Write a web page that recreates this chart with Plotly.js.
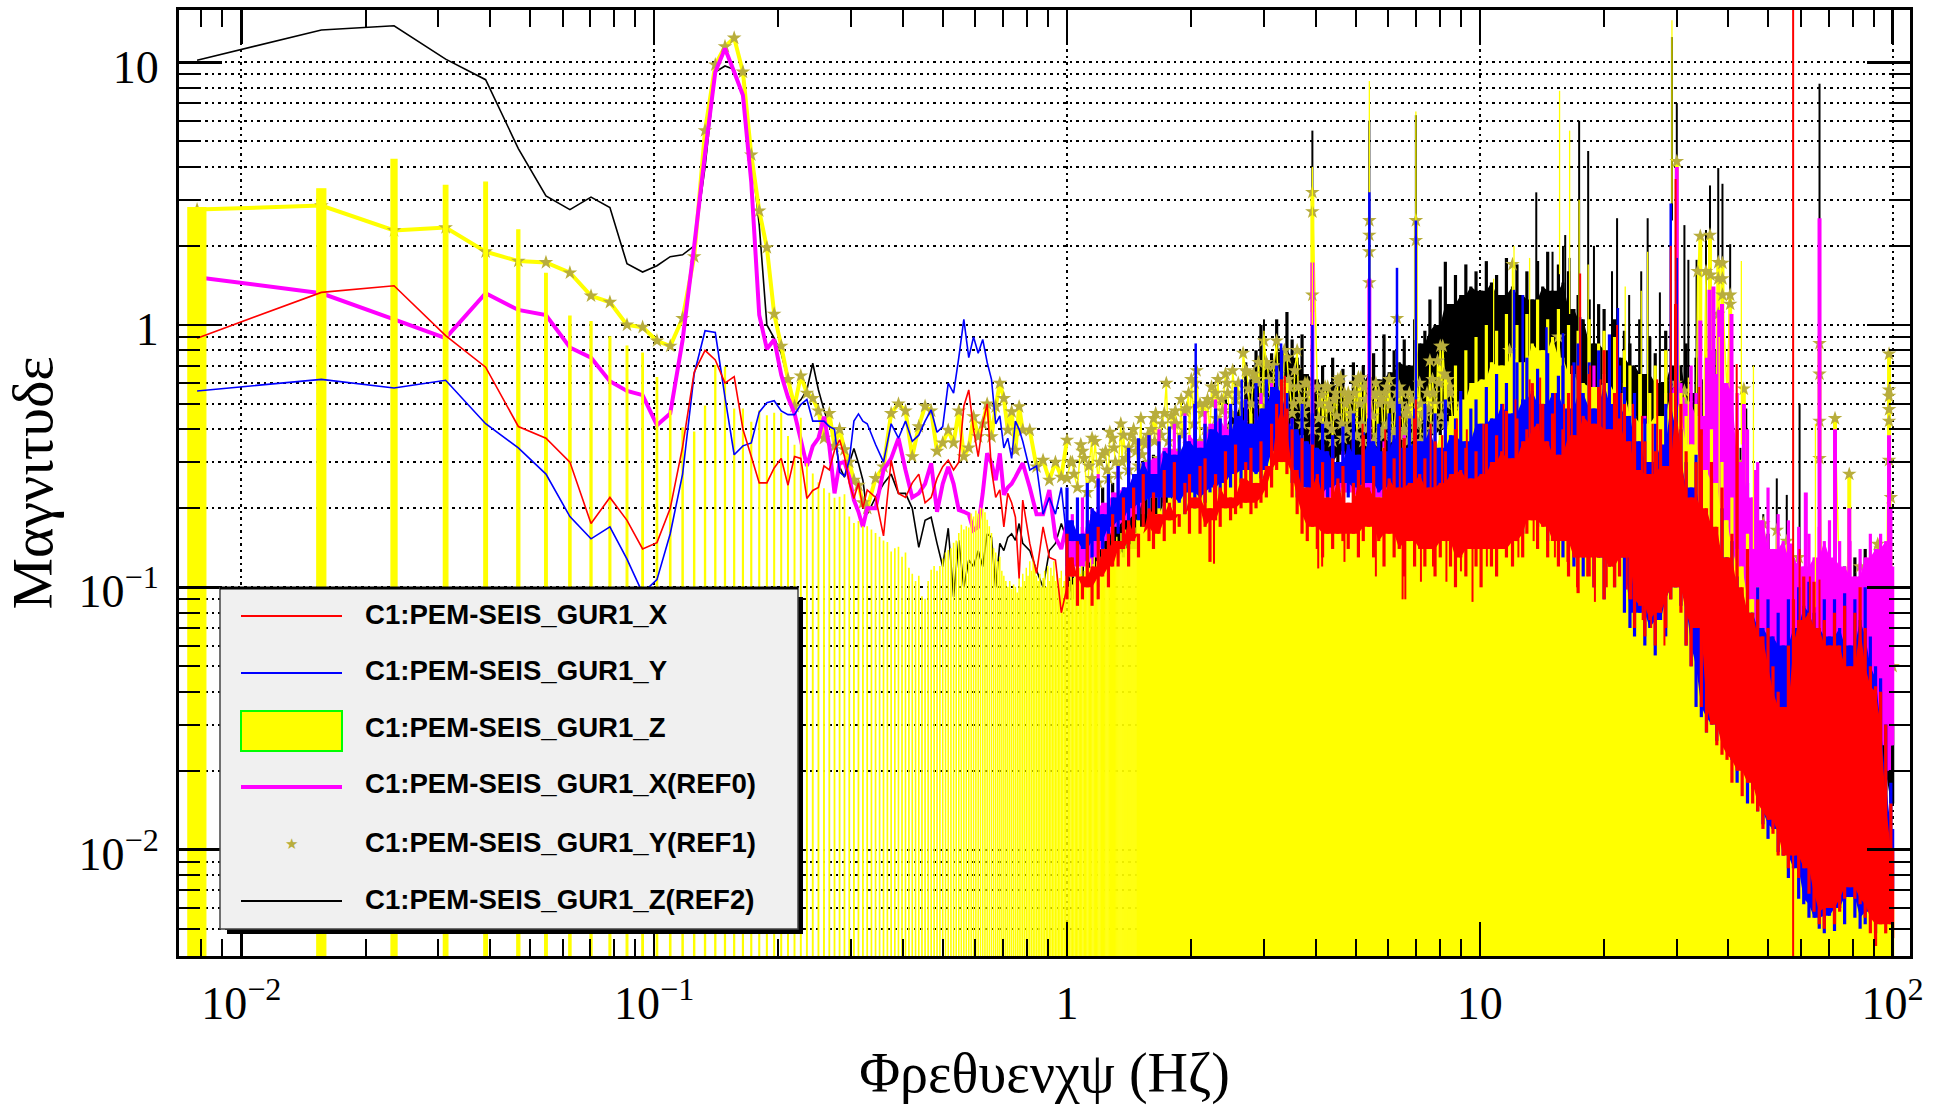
<!DOCTYPE html>
<html>
<head>
<meta charset="utf-8">
<script src="https://cdn.plot.ly/plotly-3.0.1.min.js"></script>
<style>html,body{margin:0;padding:0;background:#fff}#chart{width:1946px;height:1108px}</style>
</head>
<body>
<div id="chart"></div>
<script>
// ---- frequency bins ----
const binWidth = 0.0078125;
const midBins = [1,2,3,4,5,6,7,8,9,10, 11,12,13,14,15,16,17,18,19,20, 21,22,23,24,25,26,27,28,29,30, 31,32,33,34,35,36,37,38,39,40, 41,42,
  44,46,48,50,52,54,56,58,60,62, 64,66,68,70,72,74,76,78,80,82, 84,86,88,90,92,94,96,98,100, 104,108,112,116,120,124,128];

// ---- individually resolved low-frequency values (one per midBins entry) ----
const redMid = [.89,1.33,1.41,.91,.69,.41,.37,.30,.175,.22, .18,.14,.148,.20,.343,.66,.80,.735,.60,.635, .40,.315,.25,.25,.285,.31,.245,.315,.31,.218, .234,.24,.29,.28,.333,.365,.315,.25,.218,.25, .20,.235,
  .22,.157,.305,.228,.22,.25,.27,.21,.22,.26, .288,.305,.28,.30,.49,.565,.40,.315,.42,.50, .28,.22,.235,.17,.228,.21,.185,.108,.215, .147,.113,.17,.13,.127,.08,.10];
const blueMid = [.56,.62,.575,.615,.42,.34,.27,.186,.153,.17, .128,.095,.107,.16,.27,.65,.95,.935,.53,.32, .346,.355,.465,.505,.514,.47,.455,.455,.497,.52, .43,.43,.43,.41,.40,.275,.265,.305,.43,.458, .43,.42,
  .35,.30,.42,.37,.43,.36,.38,.43,.474,.39, .41,.60,.55,.75,1.05,.75,.90,.78,.88,.72, .62,.42,.45,.34,.37,.31,.43,.40,.36, .28,.29,.19,.22,.19,.24,.15];
const magentaMid = [1.52,1.32,1.05,.89,1.32,1.14,1.09,.82,.75,.61, .56,.54,.415,.46,.875,2.0,4.5,9.2,11.3,9.2, 7.5,3.5,1.09,.81,.88,.645,.53,.46,.365,.29, .345,.37,.447,.345,.228,.297,.30,.263,.215,.194, .17,.20,
  .20,.28,.31,.37,.28,.22,.228,.248,.297,.194, .248,.288,.248,.197,.194,.19,.165,.17,.228,.324, .297,.256,.324,.225,.24,.248,.263,.28,.297, .24,.19,.19,.235,.155,.14,.176];
const starMid = [2.75,2.85,2.29,2.35,1.9,1.75,1.73,1.58,1.29,1.22, 1.0,.98,.87,.83,1.06,1.82,5.5,9.8,11.5,12.4, 9.2,4.45,2.72,1.97,1.1,.83,.62,.49,.64,.55, .525,.47,.37,.46,.345,.40,.335,.30,.256,.245, .21,.20,
  .26,.288,.46,.50,.47,.315,.41,.49,.47,.33, .355,.397,.355,.47,.315,.34,.447,.375,.42,.50, .375,.488,.60,.525,.397,.467,.333,.488,.397, .397,.288,.305,.256,.30,.263,.364];
const blackMid = [10.2,13.3,13.8,10.3,8.6,4.7,3.1,2.75,3.07,2.8, 1.71,1.59,1.68,1.82,1.85,2.0,4.0,9.2,9.7,9.4, 7.5,4.5,2.4,1.0,.89,.78,.617,.49,.518,.565, .714,.565,.474,.41,.375,.288,.263,.297,.338,.297, .256,.19,
  .22,.248,.27,.228,.228,.20,.142,.18,.185,.147, .12,.168,.092,.151,.10,.127,.12,.138,.12,.16, .155,.10,.147,.138,.155,.16,.151,.175,.147, .138,.116,.10,.138,.147,.175,.151];
// Z channel: one narrow bar per bin, bins 1..190
const zBars = [2.8,3.3,4.27,3.4,3.5,2.3,1.57,1.08,1.03,.9, .83,.78,.63,.47,.405,.39,.49,.70,.69,.477, .477,.425,.47,.45,.46,.46,.375,.347,.44,.295, .27,.25,.237,.228,.218,.22,.225,.185,.175,.178, .17,.17,
  .165,.16,.155,.15,.148,.136,.14,.142,.13,.135, .118,.112,.105,.11,.092,.09,.105,.116,.12,.115, .12,.128,.135,.138,.14,.147,.15,.16,.172,.165, .17,.168,.19,.185,.195,.19,.2,.198,.192,.18,
  .17,.16,.14,.135,.125,.13,.115,.11,.105,.10, .105,.098,.102,.10,.095,.108,.10,.112,.105,.118, .11,.125,.115,.13,.12,.11,.105,.112,.10,.108, .115,.10,.12,.105,.118,.11,.125,.105,.112,.10, .108,.115,.10,.105,.11,.10,
  .10,.105,.11,.102,.108,.115,.105,.11,.118,.112, .12,.108,.115,.125,.11,.12,.118,.128,.112,.122, .13,.115,.125,.12,.135,.118,.13,.125,.14,.12, .135,.128,.145,.122,.138,.13,.15,.128,.142,.135, .155,.13,.148,.14,.16,.135,.152,.145,.165,.14, .158,.15,.17,.145,.162,.155,.175,.15,.168,.16, .18,.165];

// ---- dense region 1-100 Hz: shared frequency grid, crest and trough per column ----
const denseFreq = [1.00,1.03,1.06,1.09,1.12,1.15,1.19,1.22,1.26,1.29,
 1.33,1.37,1.41,1.45,1.49,1.53,1.58,1.62,1.67,1.72,
 1.77,1.82,1.87,1.93,1.98,2.04,2.10,2.16,2.22,2.29,
 2.35,2.42,2.49,2.56,2.64,2.71,2.79,2.87,2.95,3.04,
 3.13,3.22,3.31,3.41,3.51,3.61,3.71,3.82,3.93,4.04,
 4.16,4.28,4.40,4.53,4.66,4.80,4.94,5.08,5.22,5.38,
 5.53,5.69,5.86,6.03,6.20,6.38,6.56,6.75,6.95,7.15,
 7.36,7.57,7.79,8.02,8.25,8.49,8.73,8.99,9.25,9.51,
 9.79,10.07,10.37,10.67,10.98,11.3,11.6,12.0,12.3,12.7,
 13.0,13.4,13.8,14.2,14.6,15.0,15.5,15.9,16.4,16.9,
 17.3,17.8,18.4,18.9,19.4,20.0,20.6,21.2,21.8,22.4,
 23.1,23.7,24.4,25.1,25.8,26.6,27.4,28.2,29.0,29.8,
 30.7,31.6,32.5,33.4,34.4,35.4,36.4,37.5,38.6,39.7,
 40.8,42.0,43.2,44.5,45.8,47.1,48.5,49.9,51.3,52.8,
 54.3,55.9,57.5,59.2,60.9,62.7,64.5,66.4,68.3,70.3,
 72.3,74.4,76.5,78.8,81.0,83.4,85.8,88.3,90.9,93.5,
 96.2,99.0,100.0];
const redCrest = [.16,.13,.15,.11,.16,.12,.17,.14,.16,.19,
 .15,.22,.18,.24,.16,.27,.20,.23,.19,.28,
 .21,.30,.19,.25,.27,.22,.29,.31,.20,.27,
 .24,.33,.22,.35,.26,.30,.34,.25,.36,.29,
 .42,.50,.62,.48,.40,.28,.37,.24,.35,.27,
 .30,.22,.31,.26,.29,.21,.25,.28,.38,.24,
 .29,.22,.34,.26,.31,.24,.37,.25,.44,.27,
 .31,.24,.36,.25,.33,.27,.40,.28,.34,.26,
 .33,.27,.42,.30,.38,.33,.47,.31,.44,.36,
 .40,.60,.42,.50,.36,.46,.32,.40,.55,.38,
 .70,.45,.65,.42,.58,.80,.40,.55,.44,.50,
 .36,.44,.28,.36,.27,.33,.40,.29,.55,1.2,
 .50,.33,.22,.30,.40,.20,.30,.17,.24,.13,
 .16,.40,.10,.14,.08,.09,.065,.07,.05,.04,
 .035,.06,.09,.075,.11,.08,.105,.07,.075,.06,
 .08,.06,.085,.05,.08,.10,.07,.05,.042,.04,
 .03,.015,.01];
const redTrough = [.09,.11,.085,.09,.10,.085,.09,.11,.10,.12,
 .12,.14,.12,.15,.13,.17,.15,.14,.16,.15,
 .18,.16,.17,.19,.16,.20,.16,.17,.125,.18,
 .17,.20,.18,.19,.20,.21,.19,.20,.21,.22,
 .24,.28,.30,.27,.22,.19,.16,.15,.17,.14,
 .13,.16,.14,.16,.15,.14,.16,.13,.15,.17,
 .13,.15,.12,.16,.13,.14,.11,.15,.12,.14,
 .12,.14,.11,.13,.15,.12,.10,.13,.11,.14,
 .12,.10,.14,.12,.11,.14,.13,.12,.15,.13,
 .16,.18,.14,.17,.13,.15,.12,.15,.11,.13,
 .095,.13,.11,.10,.13,.09,.12,.10,.11,.13,
 .09,.07,.085,.065,.075,.06,.08,.07,.09,.10,
 .08,.06,.05,.07,.035,.028,.03,.025,.023,.022,
 .018,.02,.016,.018,.015,.014,.012,.013,.0115,.0095,
 .0095,.0085,.0095,.0078,.0085,.0068,.0058,.0052,.005,.006,
 .0052,.0058,.0065,.0072,.0065,.0062,.0055,.0048,.0043,.0052,
 .0048,.0052,.0046];
const blueCrest = [.24,.18,.22,.16,.25,.20,.26,.19,.27,.22,
 .29,.24,.34,.27,.37,.30,.38,.27,.36,.33,
 .41,.32,.38,.45,.36,.50,.34,.42,.40,.48,
 .44,.38,.50,.58,.45,.52,.42,.60,.48,.62,
 .58,.70,.80,.55,.44,.40,.50,.36,.46,.34,
 .42,.33,.38,.30,.41,.35,.46,.32,.39,.44,
 .36,.42,.33,.46,.38,.50,.34,.44,.48,.36,
 .50,.40,.46,.34,.52,.38,.44,.56,.36,.48,
 .52,.42,.58,.44,.65,.50,.60,.46,.72,.52,
 .75,.56,.68,.50,.78,.55,.64,.70,.48,.72,
 .85,.55,.72,.48,.80,.60,.92,.50,.70,.58,
 .45,.55,.36,.44,.30,.42,.35,.50,.62,.95,
 .40,.30,.24,.32,.28,.18,.26,.15,.20,.13,
 .15,.11,.09,.12,.08,.10,.07,.09,.065,.08,
 .06,.09,.07,.10,.085,.105,.08,.07,.09,.065,
 .09,.07,.095,.06,.09,.075,.10,.065,.05,.045,
 .03,.018,.012];
const blueTrough = [.12,.15,.11,.14,.12,.13,.15,.14,.15,.17,
 .16,.18,.17,.20,.18,.21,.19,.22,.20,.19,
 .22,.20,.21,.19,.23,.20,.22,.21,.23,.24,
 .22,.25,.24,.27,.25,.28,.24,.27,.26,.28,
 .28,.33,.32,.30,.25,.22,.24,.20,.22,.21,
 .23,.21,.24,.22,.25,.22,.24,.21,.23,.25,
 .21,.23,.20,.24,.21,.22,.20,.23,.21,.22,
 .19,.22,.20,.18,.21,.17,.19,.20,.17,.19,
 .17,.19,.16,.18,.20,.17,.19,.21,.18,.16,
 .19,.22,.17,.20,.15,.18,.16,.13,.15,.12,
 .13,.11,.14,.10,.13,.09,.12,.10,.13,.08,
 .07,.065,.08,.06,.07,.055,.075,.065,.09,.10,
 .085,.06,.05,.035,.032,.028,.03,.026,.027,.024,
 .022,.018,.02,.015,.017,.014,.0125,.011,.012,.0098,
 .0095,.0078,.0085,.0065,.0062,.0055,.0055,.005,.0048,.0056,
 .0049,.006,.0052,.0066,.0055,.005,.0052,.0058,.0048,.0062,
 .0075,.008,.007];
const magentaCrest = [.16,.19,.15,.22,.18,.20,.27,.21,.25,.23,
 .29,.24,.33,.27,.36,.30,.38,.31,.40,.34,
 .36,.42,.33,.46,.38,.50,.36,.47,.42,.52,
 .44,.50,.40,.47,.43,.52,.40,.48,.55,.45,
 .60,.50,.58,.40,.44,.33,.38,.30,.36,.31,
 .35,.28,.36,.30,.33,.27,.37,.29,.34,.30,
 .33,.27,.36,.30,.34,.28,.38,.30,.35,.30,
 .36,.30,.38,.28,.34,.30,.37,.28,.34,.30,
 .36,.30,.40,.32,.38,.34,.45,.36,.42,.38,
 .55,.42,.52,.45,.58,.40,.50,.38,.50,.42,
 .60,.45,.55,.70,.50,.65,.48,.62,.50,.60,
 .50,.40,.36,.45,.30,.40,.38,.55,.60,1.0,
 .60,.50,.70,.55,.45,.75,.80,.65,.85,.60,
 .70,.55,.30,.40,.22,.30,.18,.24,.14,.19,
 .15,.18,.13,.17,.12,.16,.13,.17,.15,.18,
 .13,.15,.12,.15,.11,.14,.13,.16,.14,.16,
 .15,.20,.12];
const magentaTrough = [.11,.12,.11,.13,.15,.17,.18,.19,.22,.22,
 .24,.22,.25,.25,.27,.26,.27,.28,.30,.27,
 .30,.30,.28,.25,.22,.22,.22,.23,.21,.22,
 .21,.20,.20,.19,.20,.18,.17,.17,.16,.16,
 .15,.15,.15,.16,.15,.17,.18,.16,.16,.14,
 .13,.13,.12,.13,.14,.08,.07,.07,.08,.10,
 .09,.08,.08,.07,.07,.06,.05,.05,.06,.05,
 .045,.04,.04,.03,.022,.022,.023,.024,.023,.024,.025,.025];
const blackCrest = [.12,.15,.10,.17,.13,.19,.14,.24,.18,.25,
 .19,.24,.20,.27,.22,.29,.25,.32,.27,.30,
 .28,.33,.26,.36,.30,.40,.33,.42,.36,.48,
 .40,.52,.45,.60,.50,.72,.62,.80,1.0,.70,
 .78,1.05,.80,1.12,.88,.75,.92,.65,.84,.62,
 .70,.58,.75,.60,.68,.56,.72,.60,.70,.65,
 .78,.62,.92,.66,.80,.72,.88,.70,1.05,.85,
 .95,1.25,1.0,1.4,1.74,1.2,1.55,1.3,1.7,1.4,
 1.6,1.35,1.75,1.45,1.55,1.3,1.8,1.4,1.7,1.3,
 1.6,1.25,1.75,1.4,1.9,1.35,1.7,1.45,1.6,1.15,
 1.3,1.05,1.25,.85,1.2,1.15,.80,1.05,.75,.95,
 .85,.70,1.05,.65,.90,.78,.60,.95,.70,1.2,
 .70,.85,.55,.75,.62,.45,.80,.50,.60,.35,
 .30,.22,.18,.25,.15,.17,.13,.16,.12,.14,
 .10,.12,.11,.13,.10,.09,.08,.10,.07,.09,
 .10,.08,.12,.09,.13,.11,.14,.09,.08,.07,
 .05,.04,.03];
const blackTrough = [.09,.10,.11,.10,.12,.13,.14,.13,.15,.18,
 .18,.16,.18,.18,.19,.20,.20,.21,.20,.22,
 .25,.30,.30,.30,.32,.30,.30,.32,.30,.30,
 .30,.28,.30,.32,.34,.35,.38,.40,.42,.45,
 .45,.42,.48,.42,.45,.42,.40,.42,.40,.38,
 .30,.30,.28,.26,.25,.20,.18,.18,.16,.15,
 .12,.10,.08,.07,.05,.05,.04,.035,.04,.035,
 .03,.03,.03,.03,.025,.02,.02,.02,.02,.02,.015,.015];
const starDense = [.26,.30,.24,.33,.23,.37,.25,.32,.26,.37,
 .27,.38,.28,.40,.29,.36,.30,.44,.31,.46,
 .33,.42,.33,.47,.35,.60,.36,.50,.38,.55,
 .40,.65,.41,.52,.42,.67,.40,.62,.43,.72,
 .45,.87,.50,.75,.46,.80,.42,.60,.40,.58,
 .38,.58,.36,.62,.37,.55,.38,.63,.36,.60,
 .36,.55,.38,.62,.39,.58,.40,.55,.42,.60,
 .45,.73,.50,.83,.42,.55,.35,.50,.30,.45,
 .28,.50,.30,.55,.30,.60,.28,.55,.30,.60,
 .25,.55,.28,.55,.30,.50,.30,.55,.25,.50,
 .22,.50,.22,.55,.20,.50,.20,.55,.20,.45,
 .14,.38,.12,.32,.12,.32,.13,.35,.14,.60,
 .13,.50,.12,.36,.11,.40,.10,.55,.09,.55,
 .08,.30,.07,.16,.06,.14,.06,.13,.05,.12,
 .05,.11,.045,.13,.05,.11,.04,.10,.035,.09,
 .03,.10,.03,.09,.03,.12,.03,.10,.035,.14,
 .04,.22,.05];
const zTop = [.11,.10,.13,.10,.12,.105,.13,.12,.14,.13,
 .16,.14,.18,.15,.20,.17,.22,.19,.24,.21,
 .26,.23,.30,.25,.34,.27,.30,.24,.36,.28,
 .38,.30,.42,.33,.40,.35,.46,.37,.50,.42,
 .55,.65,.75,.60,.42,.30,.38,.24,.30,.22,
 .25,.20,.27,.22,.24,.20,.28,.19,.26,.22,
 .30,.22,.34,.25,.30,.24,.36,.27,.38,.30,
 .42,.33,.50,.38,.62,.45,.70,.52,.80,.60,
 .90,.62,1.0,.72,.95,.70,1.1,.78,1.0,.72,
 1.1,.85,1.25,.80,1.05,.90,1.15,.75,1.0,.65,
 .95,.60,1.05,.58,.85,.95,.60,.90,.55,.80,
 .70,.45,.65,.42,.55,.70,.45,.80,.55,.95,
 .55,.45,.35,.50,.38,.28,.40,.25,.30,.18,
 .22,.14,.12,.16,.09,.10,.06,.07,.05,.035,
 .03,.038,.025,.03,.022,.028,.02,.03,.018,.025,
 .02,.028,.018,.024,.017,.027,.018,.022,.016,.014,
 .012,.008,.006];

// ---- narrow lines standing out of the bands ----
const redSpikeF = [3.37,5.2,5.9,6.4,7.0,7.6,8.1,8.8,9.3,10.2,11.4,12.2,13.2,14.0,15.2,16.0,16.7,17.5,18.5,19.6,20.0,21.5,22.0,23.5,24.7,26.2,26.9,29.0,29.8,34.0,41.9,57.4,59.5,63.0,66.5];
const redSpikeV = [.64,.42,.40,.45,.52,.42,.38,.44,.40,.42,.50,.52,.62,.63,.55,.50,.70,1.57,.70,.62,.80,1.0,.55,.50,.45,.42,.62,2.0,3.6,.58,.71,1000,.14,.11,.107];
const redSpikeB = [.30,.20,.20,.20,.20,.20,.20,.20,.20,.20,.20,.20,.25,.25,.20,.20,.20,.20,.20,.20,.20,.20,.20,.15,.15,.15,.15,.25,.30,.10,.05,.001,.02,.02,.02];
const redNotchF = [2.27,4.06,4.15,4.7,5.6,6.5,6.6,7.2,7.7,8.3,9.0,9.6,10.4,11.0,12.4,13.5,15.2,16.3,17.2,18.2,19.0,20.3,21.0,22.7,23.3,24.8,26.0,27.0,28.0];
const redNotchV = [.123,.118,.12,.125,.11,.09,.09,.105,.12,.105,.115,.088,.12,.125,.13,.15,.13,.125,.10,.11,.088,.10,.12,.098,.09,.075,.07,.085,.06];
const blueSpikeF = [2.05,2.65,3.3,3.93,5.4,6.3,7.0,12.1,12.7,14.5,15.9,17.5,21.6,29.0,30.0];
const blueSpikeV = [.85,.62,.85,1.0,3.2,1.65,2.5,1.36,1.3,.98,.93,1.07,1.16,2.9,1.8];
const blueSpikeB = [.30,.30,.35,.25,.30,.30,.30,.30,.30,.30,.30,.25,.25,.20,.20];
const magentaSpikeF = [3.93,5.4,30.0,31.0,34.2,36.0,36.8,37.4,38.0,38.6,40.7,43.6,46.5,57.0,61.6,66.5,72.5,78.5,92.0,98.0];
const magentaSpikeV = [1.73,1.5,4.0,.53,1.04,1.36,1.4,.36,1.14,1.2,1.1,.5,.28,.147,.23,2.55,.4,.2,.14,.38];
const magentaSpikeB = [.30,.30,.30,.10,.10,.10,.10,.08,.10,.10,.05,.05,.04,.03,.03,.03,.03,.02,.02,.02];
const blackSpikeF = [3.0,3.93,5.4,6.3,7.0,13.7,15.0,15.9,16.1,16.5,17.4,18.3,18.9,20.9,21.5,23.0,24.6,25.5,27.3,29.2,30.0,31.3,32.0,33.5,34.1,35.3,36.1,37.4,37.8,38.7,40.4,42.8,44.2,48.6,52.4,55.4,59.5,66.5];
const blackSpikeV = [1.05,5.5,6.0,1.5,6.3,3.2,1.9,2.0,2.2,1.8,6.0,4.6,2.0,1.6,2.55,1.3,1.6,2.55,1.33,12.5,7.0,2.4,1.77,1.77,.8,2.3,3.4,.8,3.96,3.45,2.03,.34,.48,.19,.26,.225,.5,8.3];
const zSpikeF = [3.0,3.93,5.4,7.0,10.8,12.1,13.2,15.6,16.5,17.4,18.3,22.5,24.6,25.5,29.2,32.0,38.0,43.0,46.0,65.0];
const zSpikeV = [.95,4.0,8.5,6.5,1.5,2.0,1.8,7.8,5.5,3.0,1.7,1.4,1.35,1.9,14.5,.63,.9,1.75,.7,.42];
// the thick yellow REF1 line where single peaks rise out of the star cloud
const starPeakF = [3.93,7.0,30.0,34.2,36.1,37.8,38.7,40.4,43.6,66.5,72.5,78.5,98.0];
const starPeakV = [3.2,2.5,4.2,2.18,2.2,1.73,1.72,1.3,.57,.85,.44,.27,.775];
const starExtraF = [1.02,1.08,1.13,1.17,1.24,1.27,1.31,1.35,1.39,1.43,1.47,1.51,1.55,1.6,1.64,1.69,1.74,1.79,1.84,1.89,1.95,2.0,2.06,2.13,2.19,2.25,2.32,2.38,2.45,2.52,2.6,2.67,2.75,2.83,2.91,3.0,3.08,3.17,3.26,3.36,3.46,3.56,3.66,3.77,3.87,
 3.93,3.93,3.93,4.1,4.22,4.34,4.47,4.6,4.73,4.87,5.0,5.15,5.3,5.4,5.4,5.4,5.4,5.45,5.6,5.78,5.95,6.12,6.29,6.3,6.47,6.65,6.85,7.0,7.0,7.2,7.45,7.68,7.9,8.13,8.37,
 11.8,12.0,15.5,30.0,31.3,33.7,34.2,35.3,36.1,36.2,37.4,37.4,37.8,37.8,37.8,38.7,38.7,38.7,40.4,40.4,43.6,48.6,52.4,55.4,66.5,66.5,66.5,66.5,72.5,78.5,92.0,98.0,98.0,98.0,98.0,98.0,98.0,
 1.04,1.1,1.15,1.2,1.25,1.3,1.36,1.41,1.46,1.52,1.57,1.63,1.7,1.76,1.83,1.9,1.97,2.03,2.1,2.17,2.24,2.3,2.37,2.44,2.5,2.58,2.66,2.73,2.8,2.9,2.97,3.06,3.15,3.24,3.33,3.44,3.54,3.63,3.74,3.85,
 4.07,4.15,4.25,4.31,4.38,4.44,4.5,4.56,4.63,4.7,4.76,4.83,4.9,4.97,5.04,5.12,5.18,5.25,5.33,5.5,5.57,5.65,5.72,5.82,5.9,5.98,6.07,6.16,6.25,6.35,6.43,6.52,6.6,6.7,6.8,6.9,7.08,7.18,7.3,7.4,7.52,7.6,7.72,7.83,7.96,8.07,8.2,8.3,8.45,8.6];
const starExtraV = [.30,.35,.29,.36,.33,.39,.30,.42,.31,.38,.33,.44,.35,.40,.46,.38,.6,.45,.42,.52,.48,.62,.67,.46,.52,.5,.62,.47,.55,.67,.6,.78,.57,.65,.72,.87,.62,.7,.6,.8,.58,.67,.52,.6,.55,
 1.3,2.7,3.2,.5,.58,.48,.55,.63,.5,.46,.6,.63,.52,1.45,2.5,2.2,1.9,.55,.6,.52,.58,.5,.55,1.06,.55,.48,.52,2.5,2.1,.5,.55,.62,.73,.83,.62,
 .8,1.7,.9,4.2,.56,1.6,2.18,1.6,2.2,1.55,.5,.38,1.73,1.5,1.1,1.72,1.5,1.3,1.3,1.2,.57,.175,.165,.15,.85,.65,.43,.31,.44,.27,.146,.775,.565,.535,.476,.43,.305,
 .27,.31,.26,.3,.28,.34,.3,.34,.36,.32,.38,.36,.42,.36,.47,.38,.55,.42,.5,.4,.58,.44,.52,.6,.46,.55,.5,.66,.5,.6,.52,.7,.55,.65,.5,.62,.5,.58,.46,.5,
 .44,.54,.42,.5,.4,.52,.45,.6,.42,.55,.4,.52,.44,.55,.38,.5,.42,.58,.4,.45,.54,.38,.5,.4,.55,.42,.5,.37,.48,.4,.5,.38,.46,.36,.44,.38,.42,.36,.46,.38,.48,.4,.55,.42,.6,.45,.65,.5,.58,.42];

// ---- text ----
const xTickVals = [0.01,0.1,1,10,100];
const xTickText = ['10<sup>−2</sup>','10<sup>−1</sup>','1','10','10<sup>2</sup>'];
const yTickVals = [0.01,0.1,1,10];
const yTickText = ['10<sup>−2</sup>','10<sup>−1</sup>','1','10'];
const xMinor = [.008,.009,.02,.03,.04,.05,.06,.07,.08,.09,.2,.3,.4,.5,.6,.7,.8,.9,2,3,4,5,6,7,8,9,20,30,40,50,60,70,80,90];
const yMinor = [.005,.006,.007,.008,.009,.02,.03,.04,.05,.06,.07,.08,.09,.2,.3,.4,.5,.6,.7,.8,.9,2,3,4,5,6,7,8,9];
const xTitle = 'Φρεθυενχψ (Ηζ)';
const yTitle = 'Μαγνιτυδε';
const legendNames = ['C1:PEM-SEIS_GUR1_X','C1:PEM-SEIS_GUR1_Y','C1:PEM-SEIS_GUR1_Z','C1:PEM-SEIS_GUR1_X(REF0)','C1:PEM-SEIS_GUR1_Y(REF1)','C1:PEM-SEIS_GUR1_Z(REF2)'];

// ---- style ----
const RED='#ff0000', BLUE='#0000ff', YEL='#ffff00', MAG='#ff00ff', BLK='#000000', KHAKI='#b8ad3c';
const midFreq = midBins.map(b => b*binWidth);
const SERIF = '"Liberation Serif", serif';
const Z_START = denseFreq.indexOf(1.49);

function line(x,y,color,width){ return {type:'scatter',mode:'lines',x,y,line:{color,width,simplify:false},hoverinfo:'skip',showlegend:false}; }
// trough values may be listed once per pair of columns
const at=(arr,i)=>arr.length===denseFreq.length?arr[i]:arr[Math.floor(i/2)];
function columns(crest,trough,color,width,from){
  const x=[],y=[];
  denseFreq.forEach((f,i)=>{ if(i<(from||0))return; x.push(f,f,null); y.push(at(trough,i),crest[i],null); });
  return line(x,y,color,width);
}
// solid middle of a band: what every column of a neighbourhood covers
function core(crest,trough,color,from){
  const n=denseFreq.length, s=from||0, up=[], lo=[], fr=denseFreq.slice(s);
  for(let i=s;i<n;i++){
    const a=Math.max(s,i-1), b=Math.min(n-1,i+1);
    let u=Infinity,l=0;
    for(let j=a;j<=b;j++){ u=Math.min(u,crest[j]); l=Math.max(l,at(trough,j)); }
    up.push(u); lo.push(Math.min(l,u));
  }
  const t=line(fr.concat(fr.slice().reverse(),[fr[0]]), up.concat(lo.slice().reverse(),[up[0]]), color, 0);
  t.fill='toself'; t.fillcolor=color; t.mode='none'; return t;
}
function spikes(f,v,b,color,width,mult){
  const x=[],y=[];
  f.forEach((q,i)=>{ x.push(q,q,null); y.push(b?b[i]:v[i]*(mult||0.2),v[i],null); });
  return line(x,y,color,width);
}
function zPoly(){
  const w=0.00078, floor=0.001, x=[],y=[];
  zBars.forEach((v,i)=>{ const f=(i+1)*binWidth;
    x.push(f-w/2,f-w/2,f+w/2,f+w/2,f-w/2,null); y.push(floor,v,v,floor,floor,null); });
  const t=line(x,y,YEL,1.3); t.fill='toself'; t.fillcolor=YEL; t.connectgaps=false; return t;
}
const zFloor=denseFreq.map(()=>0.001);
function starCloud(){
  const pts=[];
  denseFreq.forEach((f,i)=>pts.push([f,starDense[i]]));
  starExtraF.forEach((f,i)=>pts.push([f,starExtraV[i]]));
  pts.sort((a,b)=>a[0]-b[0]);
  const t=line(pts.map(p=>p[0]),pts.map(p=>p[1]),YEL,1.5);
  t.mode='lines+markers'; t.marker={symbol:'star',size:11,color:KHAKI,line:{width:0}};
  return t;
}
function starLow(){
  const t=line(midFreq,starMid,YEL,4);
  t.mode='lines+markers'; t.marker={symbol:'star',size:11,color:KHAKI,line:{width:0}};
  return t;
}
const COLW=3.2;
const traces=[
  line(midFreq,blackMid,BLK,1.6), core(blackCrest,blackTrough,BLK), columns(blackCrest,blackTrough,BLK,COLW), spikes(blackSpikeF,blackSpikeV,null,BLK,2),
  spikes(starPeakF,starPeakV,null,YEL,4,0.35), starLow(), starCloud(),
  line(midFreq,magentaMid,MAG,4), core(magentaCrest,magentaTrough,MAG), columns(magentaCrest,magentaTrough,MAG,COLW), spikes(magentaSpikeF,magentaSpikeV,magentaSpikeB,MAG,4),
  zPoly(), core(zTop,zFloor,YEL,Z_START), columns(zTop,zFloor,YEL,COLW,Z_START), spikes(zSpikeF,zSpikeV,null,YEL,1.3),
  line(midFreq,blueMid,BLUE,1.6), core(blueCrest,blueTrough,BLUE), columns(blueCrest,blueTrough,BLUE,COLW), spikes(blueSpikeF,blueSpikeV,blueSpikeB,BLUE,2.5),
  line(midFreq,redMid,RED,1.6), core(redCrest,redTrough,RED), columns(redCrest,redTrough,RED,COLW), spikes(redSpikeF,redSpikeV,redSpikeB,RED,2), spikes(redNotchF,redNotchV,null,RED,2,2)
];

// ---- layout ----
const L=179,R=1910,T=10,B=956;
const px=v=>(v-L)/(R-L), py=v=>(B-v)/(B-T);
function rect(x0,y0,x1,y1,fill,lc,lw){return {type:'rect',xref:'paper',yref:'paper',x0:px(x0),x1:px(x1),y0:py(y0),y1:py(y1),fillcolor:fill,line:{color:lc||fill,width:lw||0},layer:'above'};}
function seg(x0,y0,x1,y1,c,w){return {type:'line',xref:'paper',yref:'paper',x0:px(x0),x1:px(x1),y0:py(y0),y1:py(y1),line:{color:c,width:w},layer:'above'};}
const rowY=[614,670,727,784,842,899];
const shapes=[
  rect(227,597,803,934,'#000000'),
  rect(220,588,798,929,'#f0f0f0','#444444',1.5),
  seg(220,588,798,588,'#000000',3),
  seg(241,616,342,616,RED,2),
  seg(241,673,342,673,BLUE,2),
  rect(241,711,342,751,YEL,'#00ff00',2),
  seg(241,787,342,787,MAG,4),
  seg(241,901,342,901,BLK,2)
];
const annotations=legendNames.map((n,i)=>({xref:'paper',yref:'paper',x:px(363),y:py(rowY[i]),xanchor:'left',yanchor:'middle',text:n,showarrow:false,font:{family:'"Liberation Sans", Arial, sans-serif',size:27.6,color:'#000',weight:'bold'}}));
annotations.push({xref:'paper',yref:'paper',x:px(291),y:py(844),xanchor:'center',yanchor:'middle',text:'★',showarrow:false,font:{family:'"DejaVu Sans"',size:15,color:KHAKI}});

const axisCommon={type:'log',showline:true,linecolor:'#000',linewidth:3,mirror:'ticks',ticks:'inside',tickcolor:'#000',tickwidth:2.5,tickmode:'array',zeroline:false,
  tickfont:{family:SERIF,size:46,color:'#000'},automargin:false};
const DOT='2.5px,4px';
const layout={
  width:1946,height:1108,paper_bgcolor:'#fff',plot_bgcolor:'#fff',showlegend:false,hovermode:false,
  margin:{l:L,r:1946-R,t:T,b:1108-B,pad:0},
  xaxis:Object.assign({},axisCommon,{range:[-2.151,2.042],tickvals:xTickVals,ticktext:xTickText,ticklen:34,
    showgrid:true,gridcolor:'#000',griddash:DOT,gridwidth:2,ticklabelstandoff:5,
    minor:{tickmode:'array',tickvals:xMinor,ticks:'inside',ticklen:17,tickcolor:'#000',tickwidth:2,showgrid:false},
    title:{text:xTitle,font:{family:SERIF,size:56,color:'#000'},standoff:25}}),
  yaxis:Object.assign({},axisCommon,{range:[-2.405,1.2],tickvals:yTickVals,ticktext:yTickText,ticklen:43,
    showgrid:true,gridcolor:'#000',griddash:DOT,gridwidth:2,ticklabelstandoff:8,ticklabelshift:4,
    minor:{tickmode:'array',tickvals:yMinor,ticks:'inside',ticklen:21,tickcolor:'#000',tickwidth:2,showgrid:true,gridcolor:'#000',griddash:DOT,gridwidth:2},
    title:{text:yTitle,font:{family:SERIF,size:58,color:'#000'},standoff:10}}),
  shapes,annotations
};
Plotly.newPlot('chart',traces,layout,{displayModeBar:false,staticPlot:true});
</script>
</body>
</html>
